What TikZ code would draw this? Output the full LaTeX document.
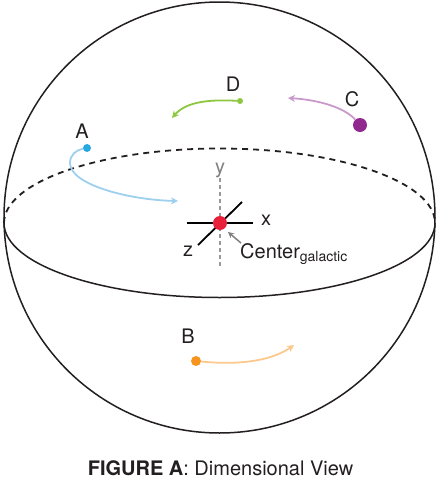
\documentclass[tikz,border=0pt]{standalone}
\usepackage{fontspec}
\setmainfont{TeX Gyre Heros}
\usetikzlibrary{arrows.meta, positioning}
\definecolor{txtGray}{HTML}{231F20}
\definecolor{dotA}{HTML}{29A9E1}
\definecolor{pathA}{HTML}{9DCFEF}
\definecolor{dotB}{HTML}{F7941D}
\definecolor{pathB}{HTML}{FCC98D}
\definecolor{dotC}{HTML}{92278F}
\definecolor{pathC}{HTML}{C99AC9}
\definecolor{dotD}{HTML}{8DC63F}
\definecolor{centerRed}{HTML}{E8203A}

\begin{document}
\begin{tikzpicture}[x=1pt, y=-1pt, font=\fontsize{20}{24}\selectfont, text=txtGray,
    dot/.style={circle, inner sep=0pt, minimum size=#1},
    lbl/.style={inner sep=0pt},
    motion/.style={line width=1.8pt, -{Stealth[length=7pt, width=7pt]}},
    axis/.style={line width=1.8pt, black}]

        \useasboundingbox (0,0) rectangle (438,480);

        % sphere and equator
        \draw[line width=1.5pt, txtGray] (219.5,217.5) circle[radius=215.5pt];
        \draw[line width=1.8pt, txtGray, dash pattern=on 6pt off 5pt] (4,223) arc[start angle=180, end angle=0, x radius=215.5pt, y radius=74.5pt];
        \draw[line width=1.5pt, txtGray] (4,223) arc[start angle=180, end angle=360, x radius=215.5pt, y radius=74.5pt];

        % galactic center and axes
        \draw[gray!80, line width=1.3pt, dash pattern=on 4pt off 3pt] (220,178) -- (220,266);
        \draw[axis] (187,223) -- (253,223);
        \draw[axis] (198,245) -- (242,202);
        \node[dot=14pt, fill=centerRed] (Ctr) at (220,223) {};
        \node[lbl, text=gray] (ylab) at (220,170) {y};
        \node[lbl] (xlab) at (266,220) {x};
        \node[lbl] (zlab) at (188,251) {z};
        \node[lbl, anchor=west] (ctrlab) at (240,254) {Center\textsubscript{galactic}};
        \coordinate (ctrTip) at (228,232);
        \draw[gray, line width=1.5pt, -{Stealth[length=6pt, width=6pt]}] (241,243) -- (ctrTip);

        % moving points
        \node[dot=8pt, fill=dotA] (A) at (87,148) {};
        \node[lbl] (Alab) at (82,131) {A};
        \coordinate (Aturn) at (70,163);
        \coordinate (Aend) at (178,201);
        \draw[pathA, line width=1.8pt] (A) .. controls (76,150) and (70,155) .. (Aturn);
        \draw[pathA, motion] (Aturn) .. controls (70,185) and (130,200) .. (Aend);

        \node[dot=10pt, fill=dotB] (B) at (196,361) {};
        \node[lbl] (Blab) at (188,336) {B};
        \coordinate (Bend) at (294,345);
        \draw[pathB, motion] (B) .. controls (235,365) and (270,362) .. (Bend);

        \node[dot=14pt, fill=dotC] (C) at (360,125) {};
        \node[lbl] (Clab) at (352,99) {C};
        \coordinate (Cend) at (288,98);
        \draw[pathC, motion] (C) .. controls (345,108) and (320,100) .. (Cend);

        \node[dot=6pt, fill=dotD] (D) at (240,101) {};
        \node[lbl] (Dlab) at (233,84) {D};
        \coordinate (Dend) at (172,118);
        \draw[dotD, motion] (D) .. controls (205,99) and (185,103) .. (Dend);

        % caption
        \node[lbl] (cap) at (220.5,468) {\textbf{FIGURE A}: Dimensional View};

    \end{tikzpicture}
\end{document}
